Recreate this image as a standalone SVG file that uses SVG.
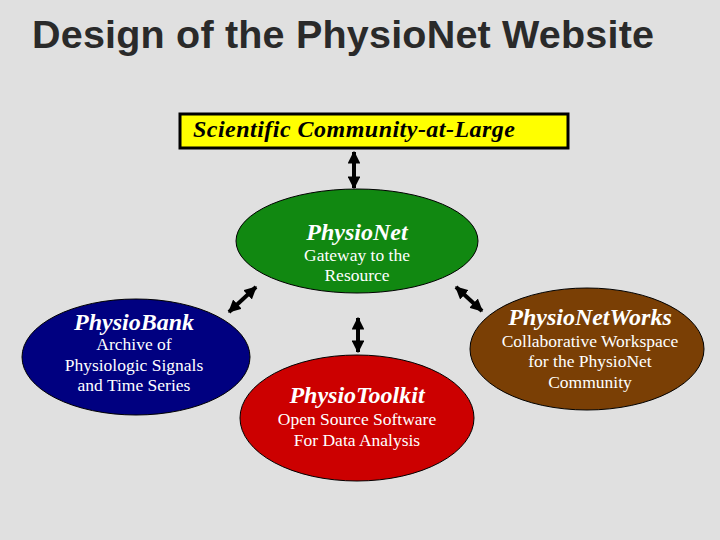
<svg xmlns="http://www.w3.org/2000/svg" width="720" height="540" viewBox="0 0 720 540">
<defs>
<marker id="ah" viewBox="0 0 10 10" refX="9" refY="5" markerWidth="3.2" markerHeight="3.2" orient="auto-start-reverse"><path d="M0,0L10,5L0,10z" fill="#000"/></marker>
<style>
.t{font-family:"Liberation Serif",serif;fill:#fff;text-anchor:middle}
.h{font-style:italic;font-weight:bold;font-size:24px}
.s{font-size:17.5px}
.c{stroke:#000;stroke-width:4;fill:none}
</style>
</defs>
<rect width="720" height="540" fill="#e0e0e0"/>
<text x="32" y="48" font-family="Liberation Sans,sans-serif" font-weight="bold" font-size="39.5" fill="#2a2a2a" textLength="622">Design of the PhysioNet Website</text>
<g id="community"><rect x="180" y="114" width="388" height="34" fill="#ffff00" stroke="#000" stroke-width="3"/><text class="t h" x="354" y="137" style="fill:#000;font-size:24px" textLength="322">Scientific Community-at-Large</text></g>
<g id="connectors">
<line class="c" x1="354" y1="152" x2="354" y2="188" marker-start="url(#ah)" marker-end="url(#ah)"/>
<line class="c" x1="229" y1="312" x2="256" y2="287" marker-start="url(#ah)" marker-end="url(#ah)"/>
<line class="c" x1="456" y1="287" x2="482" y2="311" marker-start="url(#ah)" marker-end="url(#ah)"/>
<line class="c" x1="358" y1="318" x2="358" y2="352" marker-start="url(#ah)" marker-end="url(#ah)"/>
</g>
<g id="physionet"><ellipse cx="357" cy="241" rx="121" ry="52" fill="#118811" stroke="#000"/><text class="t h" x="357" y="240">PhysioNet</text><text class="t s" x="357" y="261">Gateway to the</text><text class="t s" x="357" y="281">Resource</text></g>
<g id="physiobank"><ellipse cx="136" cy="357" rx="114" ry="58" fill="#000080" stroke="#000"/><text class="t h" x="134" y="330">PhysioBank</text><text class="t s" x="134" y="350">Archive of</text><text class="t s" x="134" y="371">Physiologic Signals</text><text class="t s" x="134" y="391">and Time Series</text></g>
<g id="physiotoolkit"><ellipse cx="357" cy="418" rx="117" ry="63" fill="#cc0000" stroke="#000"/><text class="t h" x="357" y="403">PhysioToolkit</text><text class="t s" x="357" y="425">Open Source Software</text><text class="t s" x="357" y="446">For Data Analysis</text></g>
<g id="physionetworks"><ellipse cx="587" cy="349" rx="117" ry="61" fill="#7a3f05" stroke="#000"/><text class="t h" x="590" y="325">PhysioNetWorks</text><text class="t s" x="590" y="347">Collaborative Workspace</text><text class="t s" x="590" y="367">for the PhysioNet</text><text class="t s" x="590" y="388">Community</text></g>
</svg>
